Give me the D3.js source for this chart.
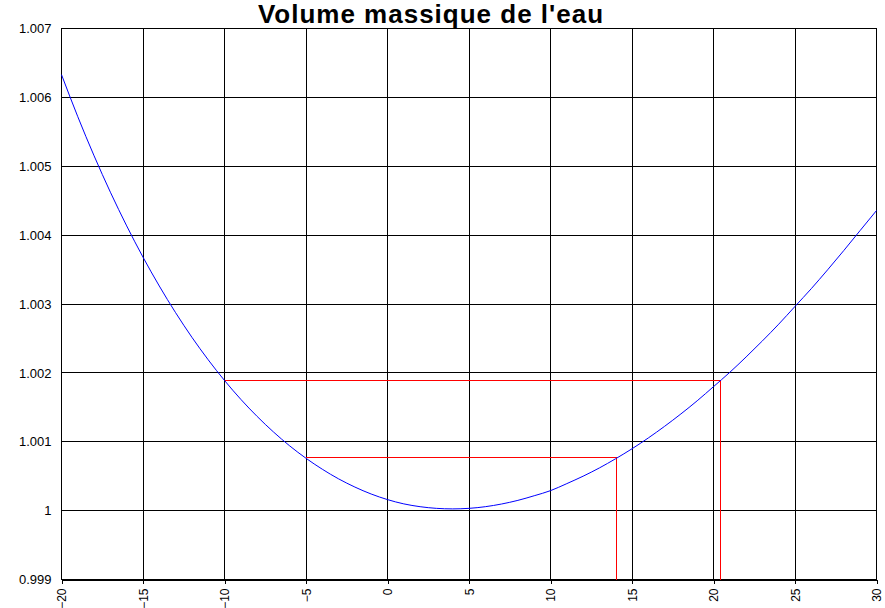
<!DOCTYPE html>
<html>
<head>
<meta charset="utf-8">
<script src="https://cdn.jsdelivr.net/npm/d3@7"></script>
<style>
  html, body { margin: 0; padding: 0; background: #fff; }
  svg { display: block; }
  text { font-family: "Liberation Sans", Arial, sans-serif; }
</style>
</head>
<body>
<svg id="chart" width="885" height="608"></svg>
<script>
// ---- Data ----
const title = "Volume massique de l'eau";
const temperatures = [-20,-19,-18,-17,-16,-15,-14,-13,-12,-11,-10,-9,-8,-7,-6,-5,-4,-3,-2,-1,
  0,1,2,3,4,5,6,7,8,9,10,11,12,13,14,15,16,17,18,19,20,21,22,23,24,25,26,27,28,29,30];
const volumes = [1.006330,1.005719,1.005151,1.004623,1.004134,1.003680,1.003261,1.002874,1.002517,1.002190,
  1.001890,1.001616,1.001368,1.001143,1.000940,1.000760,1.000601,1.000461,1.000342,1.000241,
  1.000160,1.000098,1.000057,1.000033,1.000025,1.000033,1.000057,1.000096,1.000149,1.000216,
  1.000290,1.000392,1.000500,1.000620,1.000754,1.000898,1.001055,1.001224,1.001404,1.001595,
  1.001800,1.002008,1.002231,1.002464,1.002707,1.002965,1.003223,1.003496,1.003778,1.004068,1.004357];
// Red construction lines: [x1, y1, x2, y2]
const refLine1 = [-10, 1.00189, 20.42, 1.00189];
const refLine2 = [20.42, 1.00189, 20.42, 0.999];
const refLine3 = [-5, 1.000767, 14.05, 1.000767];
const refLine4 = [14.05, 1.000767, 14.05, 0.999];
const xTicks = [-20,-15,-10,-5,0,5,10,15,20,25,30];
const yTicks = [0.999,1,1.001,1.002,1.003,1.004,1.005,1.006,1.007];
const yTickLabels = ["0.999","1","1.001","1.002","1.003","1.004","1.005","1.006","1.007"];

// ---- Layout ----
const svg = d3.select("#chart");
const pLeft = 61.5, pRight = 876.5, pTop = 28.5, pBottom = 579.5;

const x = d3.scaleLinear().domain([-20, 30]).range([pLeft, pRight]);
const y = d3.scaleLinear().domain([0.999, 1.007]).range([pBottom, pTop]);

// Gridlines
const grid = svg.append("g").attr("shape-rendering", "crispEdges");
grid.selectAll("line.v").data(xTicks).join("line").attr("class", "v")
  .attr("x1", d => x(d)).attr("x2", d => x(d))
  .attr("y1", pTop).attr("y2", pBottom)
  .attr("stroke", "#000").attr("stroke-width", 1);
grid.selectAll("line.h").data(yTicks).join("line").attr("class", "h")
  .attr("x1", pLeft).attr("x2", pRight)
  .attr("y1", d => y(d)).attr("y2", d => y(d))
  .attr("stroke", "#000").attr("stroke-width", 1);

// Plot border
grid.append("rect")
  .attr("x", pLeft).attr("y", pTop)
  .attr("width", pRight - pLeft).attr("height", pBottom - pTop)
  .attr("fill", "none").attr("stroke", "#000");

// X axis
const xAxis = svg.append("g")
  .attr("transform", `translate(0,${pBottom})`)
  .call(d3.axisBottom(x).tickValues(xTicks).tickSize(4).tickSizeOuter(0).tickFormat(d3.format("d")));
xAxis.select(".domain").attr("stroke", "#000").attr("shape-rendering", "crispEdges");
xAxis.selectAll(".tick line").attr("stroke", "#000").attr("shape-rendering", "crispEdges");
xAxis.selectAll(".tick text")
  .attr("font-family", "'Liberation Sans', Arial, sans-serif")
  .attr("font-size", 12)
  .attr("fill", "#000")
  .attr("transform", "rotate(-90)")
  .attr("text-anchor", "end")
  .attr("x", -9)
  .attr("y", 0)
  .attr("dy", "0.35em");

// Y axis
const yAxis = svg.append("g")
  .attr("transform", `translate(${pLeft},0)`)
  .call(d3.axisLeft(y).tickValues(yTicks).tickSize(0).tickPadding(10)
    .tickFormat((d, i) => yTickLabels[i]));
yAxis.select(".domain").remove();
yAxis.selectAll(".tick text")
  .attr("font-family", "'Liberation Sans', Arial, sans-serif")
  .attr("font-size", 13)
  .attr("fill", "#000");

// Red construction lines
const refs = [refLine1, refLine2, refLine3, refLine4];
svg.append("g").selectAll("line").data(refs).join("line")
  .attr("x1", d => x(d[0])).attr("y1", d => y(d[1]))
  .attr("x2", d => x(d[2])).attr("y2", d => y(d[3]))
  .attr("stroke", "#ff0000").attr("stroke-width", 1)
  .attr("shape-rendering", "crispEdges");

// Curve
const pts = temperatures.map((t, i) => [t, volumes[i]]);
svg.append("path")
  .datum(pts)
  .attr("d", d3.line().x(d => x(d[0])).y(d => y(d[1])).curve(d3.curveMonotoneX))
  .attr("fill", "none")
  .attr("stroke", "#0000ff")
  .attr("stroke-width", 1);

// Title
svg.append("text")
  .attr("x", 431).attr("y", 23)
  .attr("text-anchor", "middle")
  .attr("font-size", 26)
  .attr("font-weight", "bold")
  .attr("letter-spacing", "1px")
  .attr("fill", "#000")
  .text(title);
</script>
</body>
</html>
